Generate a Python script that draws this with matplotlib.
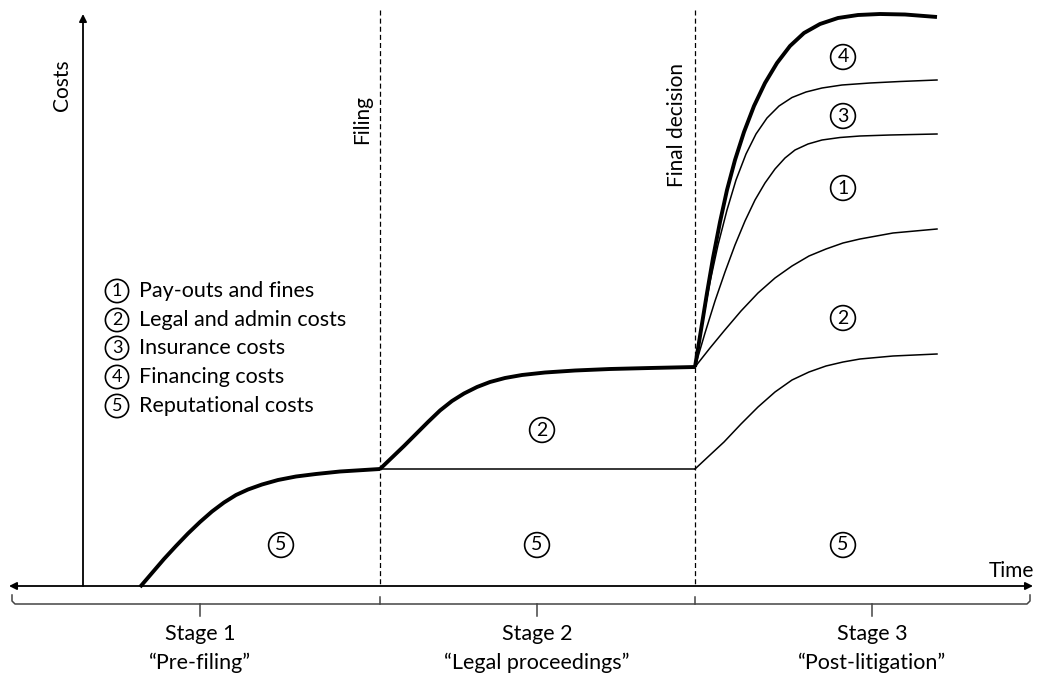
import matplotlib.pyplot as plt

# stage boundaries (time, px) and baseline level
filing_x = 380
decision_x = 695
axis_y = 586
stage_mid = [200, 537, 872]
stage_names = ["Stage 1", "Stage 2", "Stage 3"]
stage_subs = ["\u201cPre-filing\u201d", "\u201cLegal proceedings\u201d", "\u201cPost-litigation\u201d"]

# thick total-cost curve (x = time, y = pixel height from top)
s1_x = [140, 152, 164, 176, 188, 200, 212, 224, 236, 248, 262, 278, 296, 316, 340, 380]
s1_y = [587, 573, 559, 546, 533.5, 522, 511.5, 502.5, 495, 489.5, 484.5, 480, 476.5, 474, 471.5, 469]
s2_x = [380, 392, 404, 416, 428, 440, 452, 464, 477, 490, 505, 522, 545, 575, 610, 650, 695]
s2_y = [469, 457.5, 446, 434, 422, 410.5, 401, 393.5, 387, 382, 378, 375, 372.5, 370.5, 369, 368, 367]
top_x = [695, 701, 707, 713, 720, 727, 735, 744, 754, 765, 777, 790, 804, 820, 838, 858, 880, 905, 937]
top_y = [367, 330, 293, 258, 222, 190, 160, 132, 106, 83, 63, 46, 33, 24, 18, 15, 14, 14.5, 17]

# thin component boundaries in stage 3
c3_x = [695, 702, 710, 718, 727, 736, 746, 756, 767, 779, 792, 806, 822, 842, 870, 900, 937]
c3_y = [367, 325, 282, 245, 210, 180, 154, 134, 118, 106, 97.5, 92, 88, 85, 83, 81.5, 80]
c1_x = [695, 705, 715, 725, 735, 745, 755, 765, 775, 785, 795, 808, 822, 840, 860, 890, 937]
c1_y = [367, 333, 301, 272, 245, 221, 200, 183, 169, 158, 150, 144, 140, 137.5, 136, 135, 134]
c2_x = [695, 710, 724, 741, 758, 775, 792, 809, 826, 843, 860, 893, 937]
c2_y = [367, 348, 331, 311, 293, 278, 266, 256, 249, 243, 239, 233, 229]
c5_x = [695, 710, 724, 741, 758, 775, 792, 809, 826, 843, 860, 893, 937]
c5_y = [469, 455, 442, 424, 407, 392, 380, 372, 366, 362, 359, 356, 354]
flat_x = [380, 695]
flat_y = [469, 469]

# circled labels inside the areas
area_nums = ["5", "5", "5", "2", "4", "3", "1", "2"]
area_x = [281, 537, 843, 542, 843, 843, 843, 843]
area_y = [545, 545, 545, 430, 57, 116, 188, 318]

legend_nums = ["1", "2", "3", "4", "5"]
legend_text = ["Pay-outs and fines", "Legal and admin costs", "Insurance costs",
               "Financing costs", "Reputational costs"]
legend_y = [291, 320, 348, 377, 406]

plt.rcParams['font.family'] = ['Lato', 'DejaVu Sans']

fig = plt.figure(figsize=(10.37, 6.79), dpi=100)
ax = fig.add_axes([0, 0, 1, 1])
ax.set_xlim(0, 1037)
ax.set_ylim(679, 0)
ax.axis('off')

# axes arrows
ax.annotate('', xy=(1033, axis_y), xytext=(9, axis_y),
            arrowprops=dict(arrowstyle='<|-|>', color='black', lw=1.3,
                            mutation_scale=11, shrinkA=0, shrinkB=0))
ax.annotate('', xy=(83, 14), xytext=(83, axis_y),
            arrowprops=dict(arrowstyle='-|>', color='black', lw=1.3,
                            mutation_scale=11, shrinkA=0, shrinkB=0))
ax.text(62, 85, "Costs", rotation=90, ha='center', va='center', fontsize=15)
ax.text(1011, 571, "Time", ha='center', va='center', fontsize=15)

# event lines
for xv in [filing_x, decision_x]:
    ax.plot([xv, xv], [10, axis_y], color='black', lw=0.9, ls=(0, (4, 2.5)))
ax.text(362, 120, "Filing", rotation=90, ha='center', va='center', fontsize=15)
ax.text(677, 125, "Final decision", rotation=90, ha='center', va='center', fontsize=15)

# curves
for xs, ys in [(s1_x, s1_y), (s2_x, s2_y), (top_x, top_y)]:
    ax.plot(xs, ys, color='black', lw=2.8, solid_joinstyle='round', solid_capstyle='butt')
for xs, ys in [(c3_x, c3_y), (c1_x, c1_y), (c2_x, c2_y), (c5_x, c5_y), (flat_x, flat_y)]:
    ax.plot(xs, ys, color='black', lw=1.1, solid_joinstyle='round')

circ = dict(boxstyle='circle,pad=0.2', fc='white', ec='black', lw=1.2)
for n, xv, yv in zip(area_nums, area_x, area_y):
    ax.text(xv, yv, n, ha='center', va='center', fontsize=14, bbox=circ)

for n, t, yv in zip(legend_nums, legend_text, legend_y):
    ax.text(117, yv, n, ha='center', va='center', fontsize=13, bbox=circ)
    ax.text(139, yv, t, ha='left', va='center', fontsize=15.5)

# stage bracket
by = 604
ax.plot([12, 12, 15, 1027, 1030, 1030], [595, 601, by, by, 601, 595], color='#444444', lw=1.1)
for xv in [filing_x, decision_x]:
    ax.plot([xv, xv], [by, 597], color='#444444', lw=1.1)
for xv, nm, sb in zip(stage_mid, stage_names, stage_subs):
    ax.plot([xv, xv], [by, 616], color='#444444', lw=1.1)
    ax.text(xv, 634, nm, ha='center', va='center', fontsize=15.5)
    ax.text(xv, 663, sb, ha='center', va='center', fontsize=15.5)

fig.savefig('out.png', dpi=100)
